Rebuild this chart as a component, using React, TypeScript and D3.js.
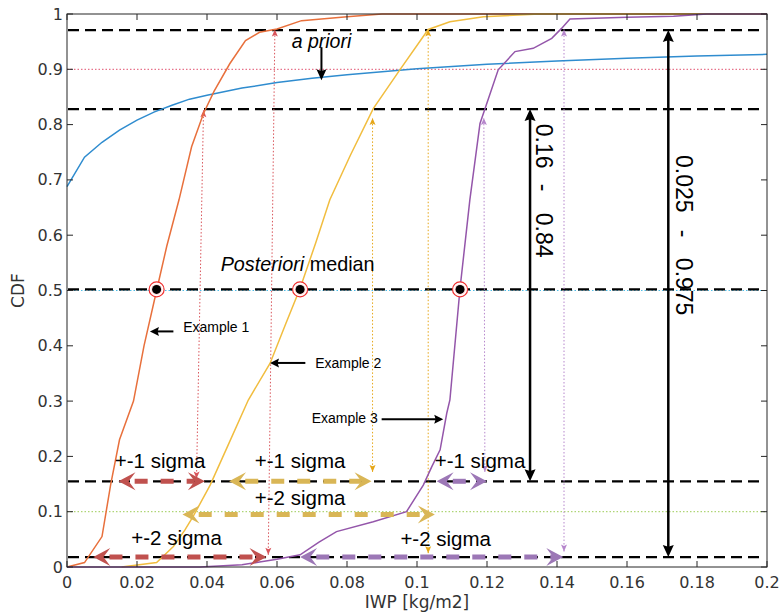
import React from "react";
import * as d3 from "d3";

const W = 779;
const H = 614;
const margin = { left: 67, right: 12, top: 14, bottom: 47 };

const xTicks = [0, 0.02, 0.04, 0.06, 0.08, 0.1, 0.12, 0.14, 0.16, 0.18, 0.2];
const xTickLabels = ["0", "0.02", "0.04", "0.06", "0.08", "0.1", "0.12", "0.14", "0.16", "0.18", "0.2"];
const yTicks = [0, 0.1, 0.2, 0.3, 0.4, 0.5, 0.6, 0.7, 0.8, 0.9, 1];
const yTickLabels = ["0", "0.1", "0.2", "0.3", "0.4", "0.5", "0.6", "0.7", "0.8", "0.9", "1"];

// a priori CDF
const priorIWP = [0, 0.005, 0.01, 0.015, 0.02, 0.025, 0.03, 0.035, 0.04, 0.05, 0.06, 0.07, 0.08, 0.1, 0.12, 0.14, 0.16, 0.18, 0.2];
const priorCDF = [0.688, 0.741, 0.768, 0.79, 0.808, 0.823, 0.835, 0.846, 0.853, 0.866, 0.876, 0.884, 0.89, 0.901, 0.909, 0.915, 0.92, 0.924, 0.927];

// posteriori CDFs
const ex1IWP = [0, 0.005, 0.01, 0.0125, 0.015, 0.019, 0.022, 0.0256, 0.0285, 0.032, 0.0356, 0.039, 0.042, 0.0465, 0.051, 0.055, 0.06, 0.067, 0.08, 0.09, 0.2];
const ex1CDF = [0, 0.008, 0.055, 0.15, 0.23, 0.3, 0.4, 0.5, 0.58, 0.664, 0.76, 0.82, 0.86, 0.91, 0.952, 0.967, 0.973, 0.988, 0.995, 1, 1];
const ex2IWP = [0.0156, 0.0256, 0.0304, 0.0337, 0.036, 0.0409, 0.046, 0.0518, 0.058, 0.0625, 0.0666, 0.071, 0.0751, 0.081, 0.0875, 0.0951, 0.1032, 0.1094, 0.119, 0.135, 0.2];
const ex2CDF = [0, 0.008, 0.037, 0.067, 0.091, 0.148, 0.22, 0.302, 0.368, 0.44, 0.504, 0.585, 0.664, 0.745, 0.829, 0.899, 0.972, 0.986, 0.995, 1, 1];
const ex3IWP = [0, 0.038, 0.05, 0.055, 0.06, 0.0666, 0.072, 0.077, 0.0875, 0.097, 0.1018, 0.1042, 0.1066, 0.1085, 0.1094, 0.1123, 0.1151, 0.118, 0.1232, 0.128, 0.1332, 0.1385, 0.1413, 0.1437, 0.16, 0.1733, 0.1828, 0.2];
const ex3CDF = [0, 0, 0.004, 0.009, 0.014, 0.022, 0.045, 0.064, 0.082, 0.1, 0.148, 0.181, 0.212, 0.278, 0.302, 0.504, 0.664, 0.802, 0.899, 0.932, 0.938, 0.956, 0.974, 0.991, 0.994, 0.996, 1, 1];

const curveColors = ["#2f8ccf", "#e8703c", "#f1bd3f", "#9456aa"];

const levelLines = [0.971, 0.828, 0.502, 0.155, 0.018];
const dottedLevels = [0.9, 0.5, 0.1];
const dottedColors = ["#e2506e", "#4fbde6", "#9ccc55"];

const medianIWP = [0.0256, 0.0666, 0.1123];
const medianCDF = 0.502;

// thin dotted drop arrows
const dropIWPLow = [0.037, 0.0575, 0.0873, 0.1032, 0.1194, 0.142];
const dropIWPHigh = [0.039, 0.0594, 0.0873, 0.1032, 0.1191, 0.142];
const dropCDFLow = [0.16, 0.022, 0.172, 0.025, 0.172, 0.028];
const dropCDFHigh = [0.826, 0.972, 0.812, 0.972, 0.812, 0.972];
const dropColors = ["#d9545a", "#d9545a", "#e6a617", "#e6a617", "#b686cc", "#b686cc"];

// thick sigma arrows
const sigmaFrom = [0.0147, 0.0075, 0.0463, 0.033, 0.1056, 0.0666];
const sigmaTo = [0.0394, 0.057, 0.087, 0.1051, 0.12, 0.1418];
const sigmaLevel = [0.155, 0.018, 0.155, 0.095, 0.155, 0.018];
const sigmaColors = ["#c0514e", "#c0514e", "#d9b656", "#d9b656", "#9c77b6", "#9c77b6"];

const sigmaLabels = ["+-1 sigma", "+-2 sigma", "+-1 sigma", "+-2 sigma", "+-1 sigma", "+-2 sigma"];
const sigmaLabelIWP = [0.0266, 0.0313, 0.0666, 0.0666, 0.118, 0.1082];
const sigmaLabelCDF = [0.193, 0.054, 0.193, 0.125, 0.193, 0.052];

const exampleLabels = ["Example 1", "Example 2", "Example 3"];
const exampleArrowFrom = [0.0304, 0.0681, 0.0899];
const exampleArrowTo = [0.0237, 0.058, 0.1075];
const exampleArrowCDF = [0.426, 0.369, 0.267];
const exampleTextIWP = [0.0332, 0.0709, 0.0699];
const exampleTextCDF = [0.434, 0.369, 0.269];

// range annotations: [IWP, top CDF, bottom CDF]
const rangeIWP = [0.1323, 0.1718];
const rangeTop = [0.828, 0.971];
const rangeBottom = [0.155, 0.018];
const rangeParts = [
  ["0.16", "-", "0.84"],
  ["0.025", "-", "0.975"],
];
const rangeLabelIWP = [0.1364, 0.1762];
const rangePartCDF = [
  [0.761, 0.686, 0.6],
  [0.693, 0.603, 0.507],
];

const x = d3.scaleLinear().domain([0, 0.2]).range([margin.left, W - margin.right]);
const y = d3.scaleLinear().domain([0, 1]).range([H - margin.bottom, margin.top]);

function vback(tx: number, ty: number, dx: number, dy: number, L: number, Wd: number, notch: number) {
  const nx = -dy;
  const ny = dx;
  const bx = tx - dx * L;
  const by = ty - dy * L;
  return `M${tx},${ty}L${bx + (nx * Wd) / 2},${by + (ny * Wd) / 2}L${tx - dx * L * notch},${ty - dy * L * notch}L${bx - (nx * Wd) / 2},${by - (ny * Wd) / 2}Z`;
}

export default function App() {
  const line = d3
    .line<[number, number]>()
    .x((d) => x(d[0]))
    .y((d) => y(d[1]));
  const series = [
    [priorIWP, priorCDF],
    [ex1IWP, ex1CDF],
    [ex2IWP, ex2CDF],
    [ex3IWP, ex3CDF],
  ].map(([a, b]) => a.map((v, i) => [v, b[i]] as [number, number]));

  const x0 = x(0);
  const x1 = x(0.2);
  const y0 = y(0);
  const y1 = y(1);
  const sans = "'Liberation Sans', Arial, sans-serif";
  const axisFont = "'DejaVu Sans', sans-serif";

  return (
    <svg width={W} height={H} style={{ position: "absolute", left: 0, top: 0, background: "#fff" }}>
      {/* dotted reference levels */}
      {dottedLevels.map((v, i) => (
        <line key={"dl" + i} x1={x0} x2={x1} y1={y(v)} y2={y(v)} stroke={dottedColors[i]} strokeWidth={1} strokeDasharray="1.5 2" />
      ))}
      {/* black dashed quantile levels */}
      {levelLines.map((v, i) => (
        <line key={"ll" + i} x1={x0 + 1} x2={x1 - 6} y1={y(v)} y2={y(v)} stroke="#000" strokeWidth={2.2} strokeDasharray="11 6" />
      ))}
      {/* drop arrows */}
      {dropIWPLow.map((v, i) => {
        const ax = x(v), ay = y(dropCDFLow[i]);
        const bx = x(dropIWPHigh[i]), by = y(dropCDFHigh[i]);
        const len = Math.hypot(bx - ax, by - ay);
        const ux = (bx - ax) / len, uy = (by - ay) / len;
        return (
          <g key={"dr" + i} fill={dropColors[i]}>
            <line x1={ax} y1={ay} x2={bx} y2={by} stroke={dropColors[i]} strokeWidth={1} strokeDasharray="1.5 2" />
            <path d={vback(bx, by, ux, uy, 7, 6, 0.8)} />
            <path d={vback(ax, ay, -ux, -uy, 7, 6, 0.8)} />
          </g>
        );
      })}
      {/* curves */}
      {series.map((s, i) => (
        <path key={"c" + i} d={line(s) || ""} fill="none" stroke={curveColors[i]} strokeWidth={1.5} />
      ))}
      {/* sigma arrows */}
      {sigmaFrom.map((v, i) => {
        const ax = x(v), bx = x(sigmaTo[i]), py = y(sigmaLevel[i]);
        const L = 17, Wd = 18;
        return (
          <g key={"sa" + i} fill={sigmaColors[i]}>
            <line x1={ax + L * 0.6} x2={bx - L * 0.6} y1={py} y2={py} stroke={sigmaColors[i]} strokeWidth={5} strokeDasharray="13 13" strokeDashoffset={-6} />
            <path d={vback(ax, py, -1, 0, L, Wd, 0.6)} />
            <path d={vback(bx, py, 1, 0, L, Wd, 0.6)} />
          </g>
        );
      })}
      {/* range arrows */}
      {rangeIWP.map((v, i) => {
        const px = x(v), ta = y(rangeTop[i]), tb = y(rangeBottom[i]);
        return (
          <g key={"ra" + i}>
            <line x1={px} x2={px} y1={ta + 8} y2={tb - 8} stroke="#000" strokeWidth={2.5} />
            <path d={vback(px, ta, 0, -1, 12, 11, 0.85)} />
            <path d={vback(px, tb, 0, 1, 12, 11, 0.85)} />
            {rangeParts[i].map((p, j) => (
              <text
                key={j}
                transform={`translate(${x(rangeLabelIWP[i])},${y(rangePartCDF[i][j])}) rotate(90)`}
                textAnchor="middle"
                dominantBaseline="central"
                fontFamily={sans}
                fontSize={23}
              >
                {p}
              </text>
            ))}
          </g>
        );
      })}
      {/* a priori annotation */}
      <text x={x(0.0727)} y={y(0.951)} textAnchor="middle" dominantBaseline="central" fontFamily={sans} fontSize={19.5} fontStyle="italic">
        a priori
      </text>
      <line x1={x(0.0727)} x2={x(0.0727)} y1={y(0.94)} y2={y(0.895)} stroke="#000" strokeWidth={2} />
      <path d={vback(x(0.0727), y(0.88), 0, 1, 11, 10, 0.85)} />
      {/* posteriori median label */}
      <text x={x(0.0439)} y={y(0.548)} dominantBaseline="central" fontFamily={sans} fontSize={19.8}>
        <tspan fontStyle="italic">Posteriori</tspan> median
      </text>
      {/* example labels */}
      {exampleLabels.map((lab, i) => {
        const ax = x(exampleArrowFrom[i]), bx = x(exampleArrowTo[i]), ay = y(exampleArrowCDF[i]);
        const dir = bx > ax ? 1 : -1;
        return (
          <g key={"ex" + i}>
            <line x1={ax} x2={bx - dir * 7} y1={ay} y2={ay} stroke="#000" strokeWidth={2} />
            <path d={vback(bx, ay, dir, 0, 9, 9, 0.85)} />
            <text x={x(exampleTextIWP[i])} y={y(exampleTextCDF[i])} dominantBaseline="central" fontFamily={sans} fontSize={14}>
              {lab}
            </text>
          </g>
        );
      })}
      {/* sigma labels */}
      {sigmaLabels.map((lab, i) => (
        <text key={"sl" + i} x={x(sigmaLabelIWP[i])} y={y(sigmaLabelCDF[i])} textAnchor="middle" dominantBaseline="central" fontFamily={sans} fontSize={20.5}>
          {lab}
        </text>
      ))}
      {/* median markers */}
      {medianIWP.map((v, i) => (
        <g key={"m" + i}>
          <circle cx={x(v)} cy={y(medianCDF)} r={7.5} fill="#fff" stroke="#f03030" strokeWidth={1.2} />
          <circle cx={x(v)} cy={y(medianCDF)} r={5.5} fill="#fdd" stroke="none" />
          <circle cx={x(v)} cy={y(medianCDF)} r={4.5} fill="#000" />
        </g>
      ))}
      {/* axes box and ticks */}
      <rect x={x0} y={y1} width={x1 - x0} height={y0 - y1} fill="none" stroke="#262626" strokeWidth={1} />
      {xTicks.map((t, i) => (
        <g key={"xt" + i}>
          <line x1={x(t)} x2={x(t)} y1={y0} y2={y0 - 6} stroke="#262626" />
          <line x1={x(t)} x2={x(t)} y1={y1} y2={y1 + 6} stroke="#262626" />
          <text x={x(t)} y={y0 + 15} textAnchor="middle" dominantBaseline="central" fontFamily={axisFont} fontSize={16} fill="#333">
            {xTickLabels[i]}
          </text>
        </g>
      ))}
      {yTicks.map((t, i) => (
        <g key={"yt" + i}>
          <line x1={x0} x2={x0 + 6} y1={y(t)} y2={y(t)} stroke="#262626" />
          <line x1={x1} x2={x1 - 6} y1={y(t)} y2={y(t)} stroke="#262626" />
          <text x={x0 - 4} y={y(t)} textAnchor="end" dominantBaseline="central" fontFamily={axisFont} fontSize={16} fill="#333">
            {yTickLabels[i]}
          </text>
        </g>
      ))}
      <text x={(x0 + x1) / 2} y={602} textAnchor="middle" dominantBaseline="central" fontFamily={axisFont} fontSize={17} fill="#333">
        IWP [kg/m2]
      </text>
      <text transform={`translate(18,${(y0 + y1) / 2}) rotate(-90)`} textAnchor="middle" dominantBaseline="central" fontFamily={axisFont} fontSize={17} fill="#333">
        CDF
      </text>
    </svg>
  );
}
